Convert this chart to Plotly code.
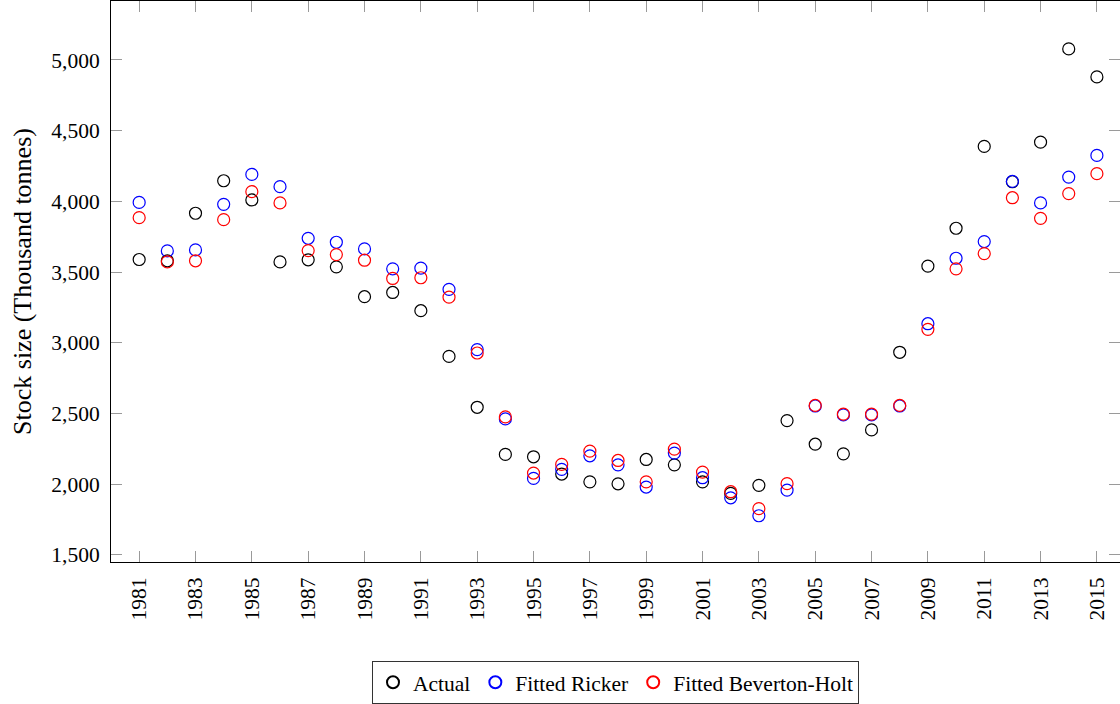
import plotly.graph_objects as go

# Stock size estimates (thousand tonnes), 1981-2015
years = list(range(1981, 2016))

actual = [3589, 3580, 3916, 4146, 4010, 3572, 3587, 3537, 3326, 3356,
          3227, 2904, 2544, 2211, 2194, 2072, 2017, 2003, 2175, 2137,
          2017, 1935, 1992, 2450, 2283, 2215, 2384, 2933, 3542, 3810,
          4389, 4139, 4419, 5078, 4880]

ricker = [3993, 3650, 3657, 3979, 4191, 4104, 3739, 3711, 3664, 3523,
          3528, 3378, 2952, 2462, 2041, 2105, 2201, 2137, 1980, 2220,
          2046, 1904, 1777, 1958, 2553, 2490, 2490, 2553, 3135, 3598,
          3716, 4141, 3989, 4172, 4325]

beverton_holt = [3885, 3572, 3580, 3871, 4069, 3989, 3652, 3624, 3584, 3455,
                 3460, 3323, 2928, 2476, 2079, 2140, 2234, 2168, 2017, 2248,
                 2086, 1947, 1827, 2004, 2557, 2496, 2496, 2557, 3095, 3523,
                 3631, 4026, 3880, 4055, 4196]

x_ticks = list(range(1981, 2016, 2))
y_ticks = list(range(1500, 5001, 500))

FONT = "Liberation Serif"
FS = 21.5

series = [
    ("Actual", actual, "#000000"),
    ("Fitted Ricker", ricker, "#0000ff"),
    ("Fitted Beverton-Holt", beverton_holt, "#ff0000"),
]

fig = go.Figure()
for name, vals, col in series:
    fig.add_trace(go.Scatter(
        x=years, y=vals, mode="markers", name=name,
        marker=dict(symbol="circle-open", size=12, color=col,
                    line=dict(width=1.2, color=col)),
    ))

# invisible trace on a right-hand axis so the right side carries inward ticks
fig.add_trace(go.Scatter(x=[years[0]], y=[y_ticks[0]], yaxis="y2",
                         mode="markers", marker=dict(opacity=0),
                         showlegend=False, hoverinfo="skip"))

tick_style = dict(ticks="inside", ticklen=11, tickwidth=1, tickcolor="#9a9a9a")

fig.update_layout(
    width=1120, height=704,
    margin=dict(l=111, r=0, t=1, b=142),
    paper_bgcolor="white", plot_bgcolor="white",
    font=dict(family=FONT, size=FS, color="black"),
    showlegend=True,
    legend=dict(orientation="h", x=0.5, xanchor="center", y=-0.176, yanchor="top",
                bordercolor="#333333", borderwidth=1, font=dict(size=FS),
                itemsizing="constant", tracegroupgap=0),
    xaxis=dict(range=[1980, 2015.82], tickvals=x_ticks, tickangle=-90,
               showgrid=False, zeroline=False, showline=True, linecolor="black",
               linewidth=1, mirror="ticks", ticklabelstandoff=6, **tick_style),
    yaxis=dict(range=[1450, 5417], tickvals=y_ticks, tickformat=",d",
               showgrid=False, zeroline=False, showline=True, linecolor="black",
               linewidth=1, ticklabelstandoff=6,
               title=dict(text="Stock size (Thousand tonnes)", standoff=12),
               **tick_style),
    yaxis2=dict(range=[1450, 5417], tickvals=y_ticks, overlaying="y", side="right",
                showticklabels=False, showgrid=False, zeroline=False, showline=False,
                **tick_style),
)

fig.write_html("out.html")
